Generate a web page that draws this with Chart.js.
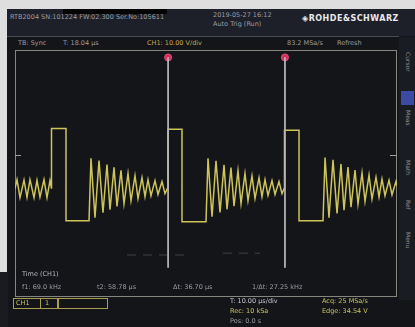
<!DOCTYPE html>
<html>
<head>
<meta charset="utf-8">
<script src="https://cdn.jsdelivr.net/npm/chart.js@4"></script>
<style>
  body { margin: 0; background: #dedede; }
  #scope { position: absolute; left: 0; top: 0; width: 415px; height: 327px; overflow: hidden; filter: blur(0.65px); }
  #screen { position: absolute; left: 7px; top: 9px; width: 408px; height: 318px; background: #141519; }
  #trace { position: absolute; left: 0; top: 0; }
  .t { position: absolute; font-family: "DejaVu Sans", sans-serif; font-size: 6.5px; color: #9a9ca4; white-space: nowrap; }
  .y { color: #c9c063; }
  .box { position: absolute; border: 1px solid #a89e52; }
  .side { position: absolute; font-family: "DejaVu Sans", sans-serif; font-size: 6px; color: #8a8c94; transform: rotate(90deg); transform-origin: left top; white-space: nowrap; }
</style>
</head>
<body>
<div id="scope">
  <div id="screen"></div>
  <div style="position:absolute;left:0;top:272px;width:8px;height:55px;background:#1a1b20"></div>
  <!-- header band -->
  <div style="position:absolute;left:7px;top:9px;width:408px;height:27px;background:#1d2029"></div>
  <div style="position:absolute;left:7px;top:36px;width:392px;height:1px;background:#4a4c54"></div>
  <div style="position:absolute;left:63px;top:9px;width:104px;height:5px;background:#050506"></div>
  <div class="t" style="left:10px;top:13px">RTB2004 SN:101224 FW:02.300 Ser.No:105611</div>
  <div class="t" style="left:213px;top:11px">2019-05-27 16:12</div>
  <div class="t" style="left:213px;top:20px">Auto Trig (Run)</div>
  <div class="t" style="left:302px;top:14px;font-size:8px;font-weight:bold;color:#e8e8ec;letter-spacing:0.5px">◈ROHDE&amp;SCHWARZ</div>
  <div class="t" style="left:18px;top:39px">TB: Sync</div>
  <div class="t" style="left:63px;top:39px">T: 18.04 µs</div>
  <div class="t" style="left:147px;top:39px;color:#c8a650">CH1: 10.00 V/div</div>
  <div class="t" style="left:287px;top:39px">83.2 MSa/s</div>
  <div class="t" style="left:337px;top:39px">Refresh</div>

  <!-- side panel -->
  <div style="position:absolute;left:399px;top:37px;width:16px;height:263px;background:#1a1c23"></div>
  <div style="position:absolute;left:401px;top:91px;width:13px;height:14px;background:#3b4aa2"></div>
  <div class="side" style="left:412px;top:52px">Cursor</div>
  <div class="side" style="left:412px;top:110px">Meas</div>
  <div class="side" style="left:412px;top:160px">Math</div>
  <div class="side" style="left:412px;top:200px">Ref</div>
  <div class="side" style="left:412px;top:232px">Menu</div>

  <canvas id="trace" width="415" height="327"></canvas>

  <!-- measurement overlay -->
  <div class="t" style="left:22px;top:270px;color:#b4b6bc">Time (CH1)</div>
  <div class="t" style="left:22px;top:283px">f1: 69.0 kHz</div>
  <div class="t" style="left:97px;top:283px">t2: 58.78 µs</div>
  <div class="t" style="left:173px;top:283px">Δt: 36.70 µs</div>
  <div class="t" style="left:252px;top:283px">1/Δt: 27.25 kHz</div>

  <!-- bottom status -->
  <div class="box" style="left:13px;top:298px;width:26px;height:9px"></div>
  <div class="box" style="left:40px;top:298px;width:16px;height:9px"></div>
  <div class="box" style="left:58px;top:298px;width:48px;height:9px"></div>
  <div class="t y" style="left:16px;top:299px">CH1</div>
  <div class="t y" style="left:45px;top:299px">1</div>
  <div class="t" style="left:230px;top:297px;color:#c4c6cc">T: 10.00 µs/div</div>
  <div class="t y" style="left:230px;top:307px">Rec: 10 kSa</div>
  <div class="t" style="left:230px;top:317px">Pos: 0.0 s</div>
  <div class="t y" style="left:322px;top:297px">Acq: 25 MSa/s</div>
  <div class="t y" style="left:322px;top:307px">Edge: 34.54 V</div>
</div>

<script>
// CH1 trace (time in µs, 10 µs/div, 12 div; volts at 10 V/div, 8 div)
const timeUs = [
  // tail of previous ringing, pulse 1, ringing
  0, 0.63, 1.57, 2.83, 3.77, 4.71, 5.97, 6.91, 7.85, 9.11, 10.05, 10.99, 11.47,
  11.47, 16.02, 16.02, 23.25, 23.87, 25.13, 26.39, 27.64, 28.90, 29.84, 31.10, 32.04,
  33.30, 34.24, 35.50, 36.44, 37.70, 38.64, 39.90, 40.84, 41.78, 42.72, 43.98, 44.92,
  46.18, 47.12, 48.06,
  // pulse 2, ringing
  48.06, 52.46, 52.46, 60.00, 60.63, 61.89, 63.14, 64.40, 65.66, 66.60, 67.85, 68.80,
  70.05, 71.00, 72.25, 73.19, 74.45, 75.39, 76.65, 77.59, 78.54, 79.48, 80.73, 81.68,
  82.93, 83.88, 84.66,
  // pulse 3, ringing
  84.66, 89.22, 89.22, 96.76, 97.39, 98.64, 99.90, 101.16, 102.41, 103.35, 104.61, 105.55,
  106.81, 107.75, 109.01, 109.95, 111.21, 112.15, 113.40, 114.35, 115.29, 116.23, 117.49,
  118.43, 119.69, 120
];
const ch1Volts = [
  -4.9, -2.0, -7.8, -2.1, -7.7, -2.0, -7.8, -2.2, -7.6, -2.0, -7.8, -2.3, -4.9,
  14.6, 14.6, -15.3, -15.3, 4.9, -14.3, 4.2, -12.7, 2.9, -11.7, 2.0, -10.7,
  1.0, -9.8, 0.0, -8.8, -0.7, -8.1, -1.3, -7.5, -2.0, -7.2, -2.3, -6.8,
  -2.6, -6.5, -4.5,
  14.3, 14.3, -15.6, -15.6, 4.9, -14.0, 4.1, -12.6, 2.8, -11.6, 1.9, -10.6,
  0.9, -9.7, 0.0, -8.8, -0.8, -8.1, -1.4, -7.5, -2.0, -7.1, -2.3, -6.8,
  -2.6, -6.5, -4.6,
  14.0, 14.0, -15.3, -15.3, 5.2, -14.3, 4.4, -12.9, 3.1, -11.9, 2.1, -10.9,
  1.1, -9.9, 0.2, -9.0, -0.5, -8.3, -1.2, -7.6, -1.8, -7.2, -2.2,
  -6.9, -2.5, -4.0
];
// cursor positions (µs) and their span on screen (V)
const cursorTimes = [48.1, 84.8];
const cursorTop = 37.6;
const cursorBottom = -30.5;
const triggerLevel = 6.0;
// faint reference trace
const refTimes = [35.2, 54.0, 65.3, 77.0];
const refVolts = [-26.4, -26.4, -25.8, -25.8];

const traceData = timeUs.map((t, i) => ({ x: t, y: ch1Volts[i] }));

const datasets = [
  {
    label: 'Ref',
    data: [{ x: refTimes[0], y: refVolts[0] }, { x: refTimes[1], y: refVolts[1] }, { x: null, y: null },
           { x: refTimes[2], y: refVolts[2] }, { x: refTimes[3], y: refVolts[3] }],
    borderColor: 'rgba(150,150,150,0.35)',
    borderDash: [9, 7],
    borderWidth: 1,
    pointRadius: 0,
    spanGaps: false
  }
];
cursorTimes.forEach(t => {
  datasets.push({
    label: 'Cursor',
    data: [{ x: t, y: cursorTop }, { x: t, y: cursorBottom }],
    borderColor: '#b9b6b8',
    borderWidth: 1,
    pointRadius: 0
  });
});
datasets.push({
  label: 'CH1',
  data: traceData,
  borderColor: '#cdc45c',
  borderWidth: 1.5,
  pointRadius: 0,
  tension: 0
});
datasets.push({
  label: 'Marker',
  data: cursorTimes.map(t => ({ x: t, y: cursorTop })),
  showLine: false,
  pointRadius: 3.5,
  pointBackgroundColor: '#d92a5c',
  pointBorderColor: '#e0507a',
  pointBorderWidth: 1
});

const framePlugin = {
  id: 'frame',
  beforeDatasetsDraw(chart) {
    const { ctx, chartArea: a, scales: { y } } = chart;
    ctx.save();
    ctx.strokeStyle = '#86867f';
    ctx.lineWidth = 1;
    ctx.strokeRect(a.left + 0.5, a.top + 0.5, a.right - a.left - 1, a.bottom - a.top - 1);
    const ty = Math.round(y.getPixelForValue(triggerLevel)) + 0.5;
    ctx.strokeStyle = '#a0a09a';
    ctx.beginPath();
    ctx.moveTo(a.left, ty); ctx.lineTo(a.left + 6, ty);
    ctx.moveTo(a.right - 7, ty); ctx.lineTo(a.right, ty);
    ctx.stroke();
    ctx.restore();
  }
};

new Chart(document.getElementById('trace'), {
  type: 'line',
  data: { datasets: datasets },
  options: {
    responsive: false,
    animation: false,
    events: [],
    layout: { padding: { left: 15, top: 50, right: 18, bottom: 30 } },
    scales: {
      x: { type: 'linear', min: 0, max: 120, display: false },
      y: { min: -40, max: 40, display: false }
    },
    plugins: { legend: { display: false }, tooltip: { enabled: false } }
  },
  plugins: [framePlugin]
});
</script>
</body>
</html>
